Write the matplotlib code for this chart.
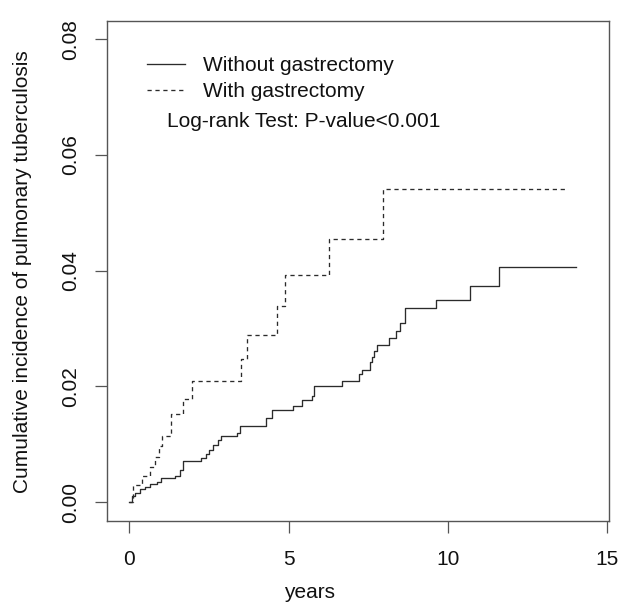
import matplotlib
matplotlib.use('Agg')
import matplotlib.pyplot as plt

# step points (years, cumulative incidence)
t_without = [0, 0.07, 0.18, 0.34, 0.49, 0.65, 0.86, 0.99, 1.43, 1.59, 1.70, 2.25, 2.41, 2.51,
             2.64, 2.77, 2.88, 3.38, 3.48, 4.28, 4.47, 5.13, 5.41, 5.73, 5.80, 6.66, 7.22,
             7.30, 7.54, 7.61, 7.68, 7.77, 8.16, 8.38, 8.49, 8.65, 9.61, 10.69, 11.60, 14.0]
ci_without = [0, 0.0010, 0.0016, 0.0022, 0.0027, 0.0031, 0.0035, 0.0041, 0.0045, 0.0055, 0.0071,
              0.0077, 0.0083, 0.0090, 0.0099, 0.0107, 0.0114, 0.0120, 0.0132, 0.0145, 0.0159,
              0.0167, 0.0176, 0.0183, 0.0201, 0.0210, 0.0221, 0.0229, 0.0242, 0.0251, 0.0262,
              0.0271, 0.0283, 0.0295, 0.0310, 0.0335, 0.0350, 0.0373, 0.0406, 0.0406]

t_with = [0, 0.13, 0.39, 0.65, 0.81, 0.92, 1.02, 1.30, 1.68, 1.97, 3.50, 3.68, 4.64, 4.89,
          6.27, 7.97, 13.7]
ci_with = [0, 0.0029, 0.0045, 0.0061, 0.0078, 0.0097, 0.0115, 0.0153, 0.0178, 0.0210, 0.0248,
           0.0289, 0.0339, 0.0392, 0.0455, 0.0542, 0.0542]

labels = ['Without gastrectomy', 'With gastrectomy']
x_ticks = [0, 5, 10, 15]
y_ticks = [0.00, 0.02, 0.04, 0.06, 0.08]

plt.rcParams['font.family'] = ['Liberation Sans', 'DejaVu Sans']
fs = 15
W, H = 619, 604
fig = plt.figure(figsize=(W / 100, H / 100), dpi=100)
ax = fig.add_axes([107.3 / W, 1 - 520.7 / H, (609 - 107.3) / W, (520.7 - 20.7) / H])

lc = '#2b2b2b'
ax.plot(t_without, ci_without, drawstyle='steps-post', color=lc, lw=0.95, label=labels[0])
ax.plot(t_with, ci_with, drawstyle='steps-post', color=lc, lw=0.95,
        linestyle=(0, (3.2, 2.8)), label=labels[1])

ax.set_xlim(-0.69, 15.05)
ax.set_ylim(-0.0032, 0.0832)
ax.set_xticks(x_ticks)
ax.set_xticklabels([str(v) for v in x_ticks])
ax.set_yticks(y_ticks)
ax.set_yticklabels(['%.2f' % v for v in y_ticks], rotation=90, va='center')
ax.tick_params(axis='both', labelsize=fs, length=8.4, width=0.9, color='#555555',
               labelcolor='#111111')
ax.tick_params(axis='x', pad=12.5)
ax.tick_params(axis='y', pad=11.5)
for sp in ax.spines.values():
    sp.set_color('#555555')
    sp.set_linewidth(1.0)

ax.set_xlabel('years', fontsize=fs, color='#111111')
ax.xaxis.set_label_coords(0.5, 1 - 598 / H, transform=fig.transFigure)
ax.xaxis.label.set_va('baseline')
ax.set_ylabel('Cumulative incidence of pulmonary tuberculosis', fontsize=fs, color='#111111')
ax.yaxis.label.set_va('center')
ax.yaxis.set_label_coords(23 / W, 1 - 272 / H, transform=fig.transFigure)

leg = ax.legend(loc='upper left', bbox_to_anchor=(147 / W, 1 - 56 / H),
                bbox_transform=fig.transFigure, frameon=False, fontsize=fs,
                handlelength=1.83, handletextpad=0.87, borderpad=0, borderaxespad=0,
                labelspacing=0.33)
for txt in leg.get_texts():
    txt.set_color('#111111')

fig.text(167 / W, 1 - 121.7 / H, 'Log-rank Test: P-value<0.001', fontsize=fs,
         va='center', ha='left', color='#111111')

fig.savefig('out.png', dpi=100)
